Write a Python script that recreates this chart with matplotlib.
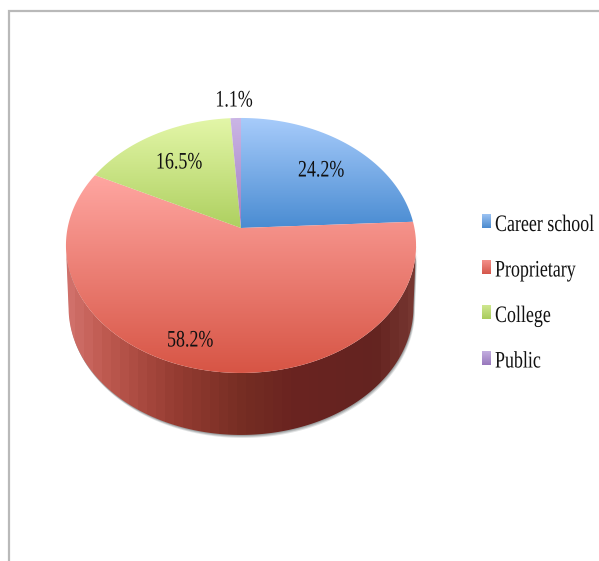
import matplotlib
matplotlib.use('Agg')
import matplotlib.pyplot as plt
import matplotlib.colors as mc
import matplotlib.patheffects as pe
from matplotlib.transforms import Affine2D
import numpy as np
from matplotlib.patches import Polygon

plt.rcParams['font.family'] = ['Liberation Serif', 'DejaVu Serif']

labels = ['Career school', 'Proprietary', 'College', 'Public']
values = [24.2, 58.2, 16.5, 1.1]

top_colors = ['#a8ccfb', '#ffa6a1', '#e3f6a8', '#cbb6e6']
bottom_colors = ['#4a8cd2', '#d75545', '#aed060', '#a07cc0']
legend_top = ['#9cc3f3', '#f4908a', '#cfe790', '#c3aee0']
legend_bottom = ['#4a8ace', '#d4564a', '#a9cc5c', '#9878bc']
label_pos = [(321, 171), (190, 341), (179, 163), (234, 101)]

wall_x = [66, 100, 170, 240, 290, 370, 416]
wall_colors = ['#d0706a', '#bf5a50', '#963c32', '#752d23', '#6a2320', '#642320', '#7a3a34']

# disc in perspective, pixel coordinates of the picture
cx, cy = 241, 228
A, B, k = 173.4, 125.1, 0.137
depth = 62
squeeze = 0.76


class Squeeze(pe.AbstractPathEffect):
    # the reference font is a narrow one, so pull the glyphs together sideways
    def __init__(self, sx, x0):
        super().__init__()
        self.sx = sx
        self.x0 = x0

    def draw_path(self, renderer, gc, tpath, affine, rgbFace=None):
        squeezed = affine + Affine2D().translate(-self.x0, 0).scale(self.sx, 1).translate(self.x0, 0)
        renderer.draw_path(gc, tpath, squeezed, rgbFace)


def disc(frac):
    ang = 2 * np.pi * np.asarray(frac)
    u, v = np.sin(ang), np.cos(ang)
    d = 1 + k * v
    return cx + A * u / d, cy - B * v / d


def vgrad(ax, c1, c2, extent, clip=None, z=3):
    cmap = mc.LinearSegmentedColormap.from_list('g', [c1, c2])
    im = ax.imshow(np.linspace(0, 1, 200).reshape(-1, 1), cmap=cmap, aspect='auto',
                   extent=extent, zorder=z)
    if clip is not None:
        im.set_clip_path(clip)


fig = plt.figure(figsize=(5.99, 5.61), dpi=100)
ax = fig.add_axes([0, 0, 1, 1])

# outline of the front half, and the same edge pushed down
ex, ey = disc(np.linspace(0, 1, 721))
side = np.where(ey >= ey[np.argmax(ex)])[0]
left_to_right = np.argsort(ex[side])
fx, fy = ex[side][left_to_right], ey[side][left_to_right]
low_x = cx + (fx - cx) * 0.985
low_y = fy + depth
wall = np.vstack([np.column_stack([fx, fy]), np.column_stack([low_x, low_y])[::-1]])

for off, a in [(3, 0.25), (2, 0.4), (1, 0.6)]:
    ax.add_patch(Polygon(wall + [off * 0.5, off], closed=True, fc='#8a8f90', ec='none', alpha=a, zorder=1))

wall_poly = Polygon(wall, closed=True, fc='none', ec='none', zorder=2)
ax.add_patch(wall_poly)
bx = np.arange(66, 417, 9)
band = np.array([np.interp(bx, wall_x, [mc.to_rgb(c)[i] for c in wall_colors]) for i in range(3)]).T
im = ax.imshow(band[np.newaxis, :, :], aspect='auto', extent=(66, 417, 440, 170),
               interpolation='nearest', zorder=2)
im.set_clip_path(wall_poly)

# top face, one polygon per slice
start = 0.0
for i, v in enumerate(values):
    frac = np.linspace(start, start + v / 100, max(int(v * 5), 4))
    x, y = disc(frac)
    pts = np.vstack([[cx, cy], np.column_stack([x, y])])
    poly = Polygon(pts, closed=True, fc='none', ec='none', zorder=3)
    ax.add_patch(poly)
    vgrad(ax, top_colors[i], bottom_colors[i], (40, 440, pts[:, 1].max(), pts[:, 1].min()), poly)
    start += v / 100

for v, (px, py) in zip(values, label_pos):
    ax.text(px, py, f'{v:.1f}%', ha='center', va='center', fontsize=17, color='#111111', zorder=5,
            path_effects=[Squeeze(squeeze, px)])

# frame of the chart area, runs off the right and bottom of the picture
ax.plot([8.5, 8.5, 599], [561, 10.5, 10.5], color='#b9b9b9', lw=1.6, solid_joinstyle='miter', zorder=1)

# legend by hand: keys are taller than wide, text squeezed towards its left start at x=495
for i, name in enumerate(labels):
    ky = 221 + i * 45.5
    vgrad(ax, legend_top[i], legend_bottom[i], (482, 491, ky + 7, ky - 7), z=6)
    t = ax.text(495, 231 + i * 45.5, name, ha='left', va='baseline', fontsize=17, color='#111111', zorder=6)
    w = t.get_window_extent(fig.canvas.get_renderer()).width
    right = 495 + w * squeeze
    t.set_x(right)
    t.set_ha('right')
    t.set_path_effects([Squeeze(squeeze, right)])

ax.set_xlim(0, 599)
ax.set_ylim(561, 0)
ax.axis('off')

fig.savefig('out.png', dpi=100)
